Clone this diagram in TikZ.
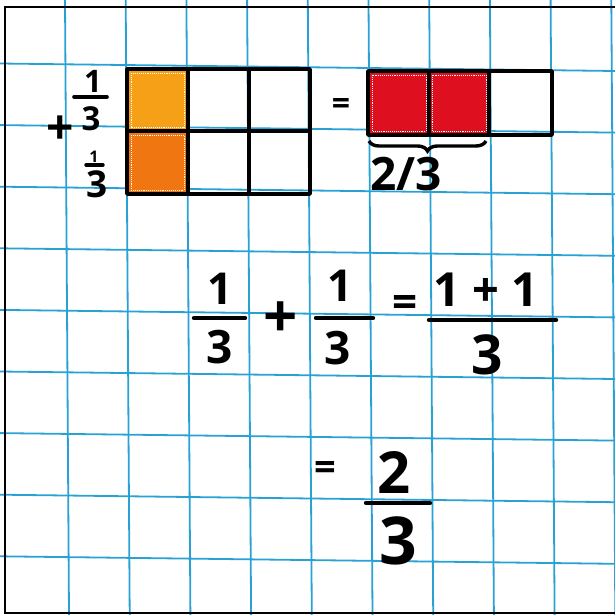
\documentclass[tikz,border=0pt]{standalone}
\usepackage{fontspec}
\setmainfont{Open Sans}
\usepackage{xcolor}
\usepackage{tikz}
\usetikzlibrary{decorations.pathreplacing, calc}

\definecolor{gridblue}{RGB}{40,162,212}
\definecolor{markorangeA}{RGB}{245,160,22}
\definecolor{markorangeB}{RGB}{240,118,18}
\definecolor{markred}{RGB}{222,16,32}

\begin{document}
\begin{tikzpicture}[
        x=1pt, y=-1pt,
        gridline/.style={gridblue, line width=1.8pt},
        cellbox/.style={draw=black, line width=3.6pt, line cap=round, line join=round},
        marker/.style={draw=white, densely dotted, line width=0.9pt},
        fracbar/.style={line width=4.4pt, line cap=round},
        digit/.style={inner sep=0pt, font=\fontsize{#1}{#1}\selectfont\bfseries},
    ]

    \useasboundingbox (0,0) rectangle (615,615);

    % ── Grid paper ──
    \foreach \k in {0,...,9}
        \draw[gridline] ({65+60.7*\k},0) -- ({69+60.7*\k},615);
    \foreach \k in {0,...,8}
        \draw[gridline] (0,{63.5+61.6*\k}) -- (615,{71+61.6*\k});
    \draw[line width=2.6pt] (615,7) -- (5,7) -- (5,613) -- (615,613);

    % ── Coloured cells ──
    \fill[markorangeA] (128,70) rectangle (187,130);
    \fill[markorangeB] (128,132) rectangle (187,193);
    \fill[markred] (369,72) rectangle (488,134);
    \draw[marker] (131,73) rectangle (184,127);
    \draw[marker] (131,135) rectangle (184,190);
    \draw[marker] (372,75) rectangle (426,131);
    \draw[marker] (432,75) rectangle (486,131);

    % ── Thirds: left box ──
    \draw[cellbox] (127,69) rectangle (310,194);
    \draw[cellbox] (127,131) -- (310,131);
    \draw[cellbox] (188,69) -- (188,194);
    \draw[cellbox] (249,69) -- (249,194);

    % ── Thirds: right box ──
    \draw[cellbox] (368,71) rectangle (552,135);
    \draw[cellbox] (429,71) -- (429,135);
    \draw[cellbox] (489,71) -- (489,135);

    % ── Left labels ──
    \node[digit=31] (lfa1) at (93,81) {1};
    \draw[fracbar, line width=3.6pt] (74,97) -- (107,97);
    \node[digit=33] (lfa3) at (91,119) {3};
    \node[digit=48] (lplus) at (60,130) {+};
    \node[digit=16] (lfb1) at (94,157) {1};
    \draw[fracbar, line width=3.4pt] (86,165) -- (103,165);
    \node[digit=37] (lfb3) at (97,184) {3};
    \node[digit=32] (rightEq) at (341,106) {=};

    % ── Brace under the red cells ──
    \draw[decorate, decoration={brace, mirror, amplitude=10pt}, line width=3.4pt]
        (369,141) -- (486,141);
    \node[digit=46, anchor=base] (twothirds) at (406,190) {2/3};

    % ── Equation ──
    \node[digit=44] (eqAn) at (220,289) {1};
    \draw[fracbar] (194,318) -- (245,318);
    \node[digit=46] (eqAd) at (220,347) {3};
    \node[digit=60] (eqPlus) at (281,320) {+};
    \node[digit=44] (eqBn) at (340,286) {1};
    \draw[fracbar] (316,318) -- (373,318);
    \node[digit=46] (eqBd) at (338,348) {3};
    \node[digit=44] (eqEq) at (405,306) {=};
    \node[digit=47] (eqCn) at (486,290) {1 + 1};
    \draw[fracbar] (429,320) -- (556,320);
    \node[digit=55] (eqCd) at (487,355) {3};

    % ── Result ──
    \node[digit=38] (resEq) at (325,471) {=};
    \node[digit=58] (resN) at (394,472) {2};
    \draw[fracbar] (366,503) -- (430,503);
    \node[digit=66] (resD) at (398,541) {3};

\end{tikzpicture}
\end{document}
